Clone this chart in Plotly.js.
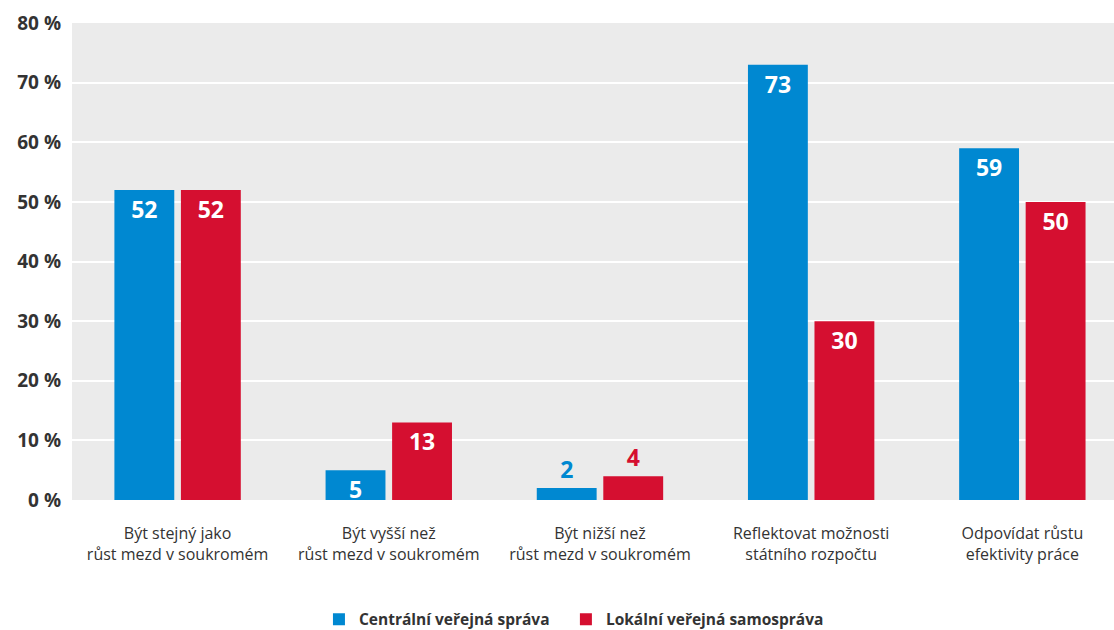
<!DOCTYPE html>
<html>
<head>
<meta charset="utf-8">
<script src="https://cdn.plot.ly/plotly-3.0.1.min.js"></script>
<style>html,body{margin:0;padding:0;background:#fff;}#chart{width:1114px;height:630px;}</style>
</head>
<body>
<div id="chart"></div>
<script>
const categories = [
  "Být stejný jako<br>růst mezd v soukromém",
  "Být vyšší než<br>růst mezd v soukromém",
  "Být nižší než<br>růst mezd v soukromém",
  "Reflektovat možnosti<br>státního rozpočtu",
  "Odpovídat růstu<br>efektivity práce"
];
const seriesNames = ["Centrální veřejná správa", "Lokální veřejná samospráva"];
const centralValues = [52, 5, 2, 73, 59];
const localValues = [52, 13, 4, 30, 50];
const yTickValues = [0, 10, 20, 30, 40, 50, 60, 70, 80];

const colors = ["#0088d1", "#d50f30"];
const font = "'Open Sans', 'DejaVu Sans', sans-serif";

function makeTrace(name, vals, color, legendId) {
  return {
    type: "bar",
    name: name,
    legend: legendId,
    x: categories,
    y: vals,
    marker: {color: color, line: {width: 0}},
    text: vals.map(v => String(v)),
    textposition: vals.map(v => v < 4.5 ? "outside" : "inside"),
    textangle: 0,
    insidetextanchor: "end",
    insidetextfont: {family: font, size: 23, color: "#ffffff", weight: 700},
    outsidetextfont: {family: font, size: 23, color: color, weight: 700},
    cliponaxis: false,
    hoverinfo: "skip"
  };
}

const data = [
  makeTrace(seriesNames[0], centralValues, colors[0], "legend"),
  makeTrace(seriesNames[1], localValues, colors[1], "legend2")
];

const legendFont = {family: font, size: 15.5, color: "#333333", weight: 700};

const layout = {
  width: 1114,
  height: 630,
  margin: {l: 72, r: 0, t: 23, b: 130, autoexpand: false},
  paper_bgcolor: "#ffffff",
  plot_bgcolor: "#ebebeb",
  barmode: "group",
  bargap: 0.37,
  bargroupgap: 0.1,
  showlegend: true,
  uniformtext: {mode: "show", minsize: 23},
  xaxis: {
    type: "category",
    range: [-0.5, 4.434],
    showgrid: false,
    zeroline: false,
    showline: false,
    ticks: "",
    ticklabelstandoff: 22,
    tickfont: {family: font, size: 16, color: "#333333"},
    fixedrange: true
  },
  yaxis: {
    range: [0, 80],
    tickvals: yTickValues,
    ticktext: yTickValues.map(v => v + " %"),
    showgrid: true,
    gridcolor: "#ffffff",
    gridwidth: 2,
    zeroline: false,
    showline: false,
    ticks: "",
    ticklabelstandoff: 10,
    tickfont: {family: font, size: 19, color: "#333333", weight: 700},
    fixedrange: true
  },
  legend: {
    orientation: "h",
    x: 0.237,
    xanchor: "left",
    y: -0.215,
    yanchor: "top",
    font: legendFont,
    itemwidth: 30
  },
  legend2: {
    orientation: "h",
    x: 0.474,
    xanchor: "left",
    y: -0.215,
    yanchor: "top",
    font: legendFont,
    itemwidth: 30
  }
};

Plotly.newPlot("chart", data, layout, {displayModeBar: false, staticPlot: true});
</script>
</body>
</html>
